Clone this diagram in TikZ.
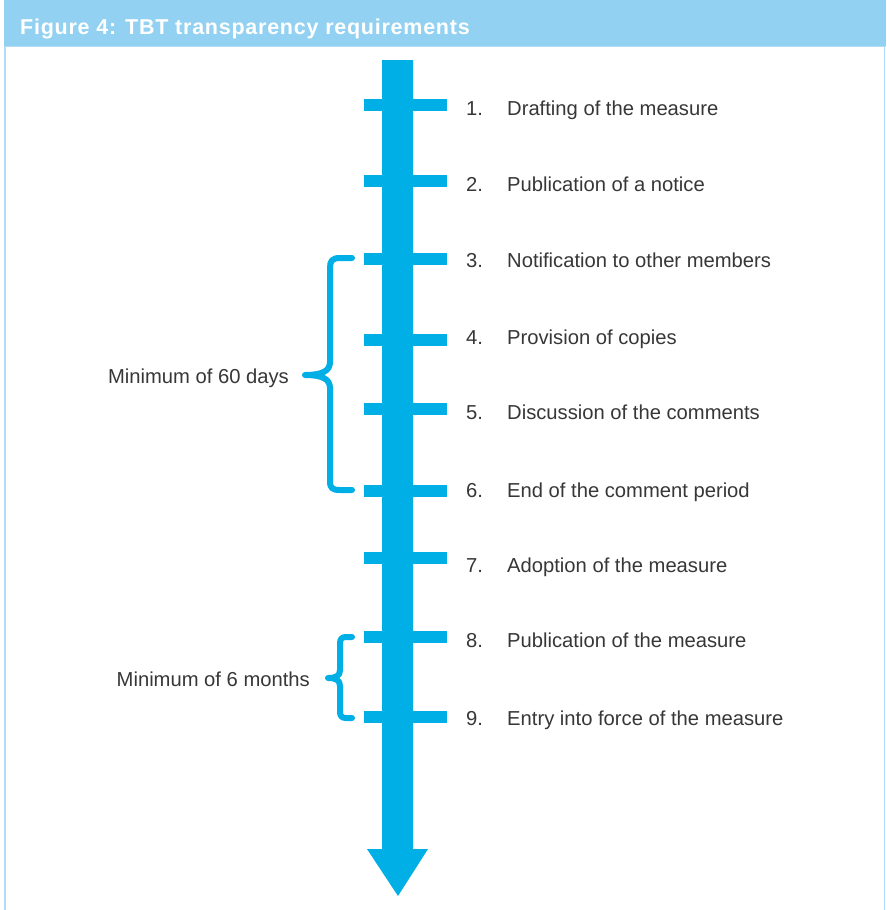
\documentclass[tikz,border=0pt]{standalone}
\usepackage{fontspec}
\setmainfont{Liberation Sans}
\usetikzlibrary{positioning}

\definecolor{tbtblue}{RGB}{0,175,230}
\definecolor{headblue}{RGB}{146,209,241}
\definecolor{edgeblue}{RGB}{178,222,245}
\definecolor{textgrey}{RGB}{55,55,55}

\begin{document}
\begin{tikzpicture}[x=1pt,y=-1pt,
	steplabel/.style={anchor=base west,inner sep=0pt,text=textgrey,font=\fontsize{20.2}{24}\selectfont},
	spanlabel/.style={anchor=base east,inner sep=0pt,text=textgrey,font=\fontsize{20.2}{24}\selectfont},
	timetick/.style={fill=tbtblue},
	spanbrace/.style={draw=tbtblue,line width=6pt,line cap=round,line join=round}]

	% frame and title band
	\useasboundingbox (0,0) rectangle (886,910);
	\fill[white] (0,0) rectangle (886,910);
	\fill[headblue] (4,0) rectangle (886,46);
	\draw[edgeblue,line width=1.5pt] (5,46) -- (5,910);
	\draw[edgeblue,line width=1.5pt] (884.5,46) -- (884.5,910);
	\draw[edgeblue,line width=1pt] (4,46.5) -- (886,46.5);
	\node[anchor=base west,inner sep=0pt,text=white,font=\fontsize{21.5}{24}\selectfont\bfseries\addfontfeature{LetterSpace=3.5}] (title) at (20,34) {Figure 4: TBT transparency requirements};

	% the time line
	\fill[tbtblue] (382,60) -- (413,60) -- (413,849) -- (428,849) -- (398,896) -- (367,849) -- (382,849) -- cycle;

	\foreach \y/\b/\n/\t in {105/115/1/Drafting of the measure,
		181/191/2/Publication of a notice,
		259/267/3/Notification to other members,
		340/344/4/Provision of copies,
		409/419/5/Discussion of the comments,
		491/497/6/End of the comment period,
		558/572/7/Adoption of the measure,
		637/647/8/Publication of the measure,
		717/725/9/Entry into force of the measure}
	{
		\fill[timetick] (364,\y-6) rectangle (447,\y+6);
		\node[steplabel] (num\n) at (466,\b) {\n.};
		\node[steplabel] (step\n) at (507,\b) {\t};
	}

	% comment period brace
	\draw[spanbrace] (352,258) -- (340,258) .. controls (332,258) and (330,261) .. (330,268) -- (330,362)
		.. controls (330,371) and (322,375) .. (305,375) .. controls (322,375) and (330,379) .. (330,388)
		-- (330,481) .. controls (330,488) and (332,490) .. (340,490) -- (352,490);
	\node[spanlabel] (days) at (289,383) {Minimum of 60 days};

	% entry into force brace
	\draw[spanbrace] (352,637) -- (346,637) .. controls (342,637) and (340,639) .. (340,643) -- (340,670)
		.. controls (340,676) and (336,678) .. (328,678) .. controls (336,678) and (340,680) .. (340,686)
		-- (340,712) .. controls (340,716) and (342,718) .. (346,718) -- (352,718);
	\node[spanlabel] (months) at (310,686) {Minimum of 6 months};

\end{tikzpicture}
\end{document}
